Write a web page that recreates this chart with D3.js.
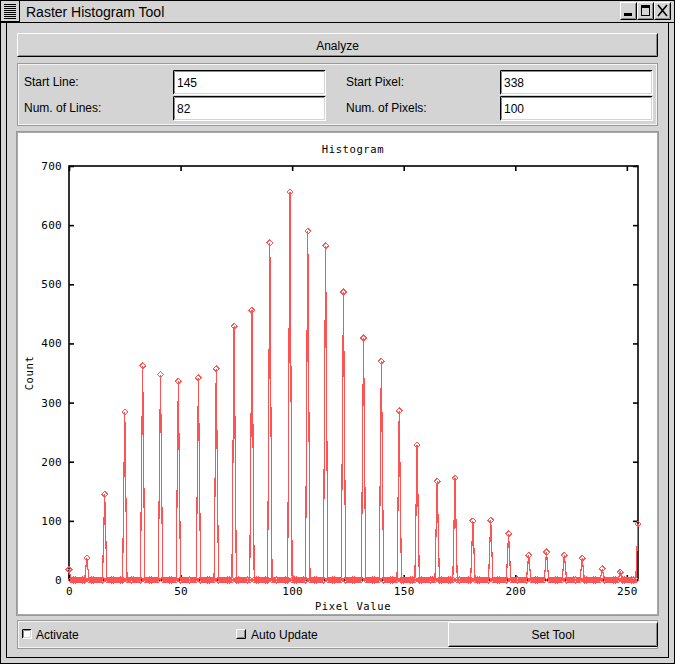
<!DOCTYPE html>
<html><head><meta charset="utf-8">
<script src="https://cdn.jsdelivr.net/npm/d3@7"></script>
<style>body{margin:0;background:#d4d4d4;overflow:hidden}svg{display:block}</style>
</head><body><svg id="c" width="675" height="664"></svg>
<script>
// ---- data ----
const peakPixels = [0,8,16,25,33,41,49,58,66,74,82,90,99,107,115,123,132,140,148,156,165,173,181,189,197,206,214,222,230,239,247,255];
const peakCounts = [18,37,145,284,362,347,336,342,357,429,456,570,656,590,565,487,409,370,286,228,167,172,100,101,78,42,47,42,37,19,13,95];
const xTicks = [0,50,100,150,200,250];
const yTicks = [0,100,200,300,400,500,600,700];
const fieldLabels = ["Start Line:","Num. of Lines:","Start Pixel:","Num. of Pixels:"];
const fieldValues = ["145","82","338","100"];
const windowTitle = "Raster Histogram Tool";
const chartTitle = "Histogram";
const xLabel = "Pixel Value";
const yLabel = "Count";

// full histogram table (zero where no peak)
const hist = d3.range(0,256).map(v => ({v, c: 0}));
peakPixels.forEach((p,i) => { hist[p].c = peakCounts[i]; });

const svg = d3.select("#c");
const UI = "'Liberation Sans', Arial, sans-serif";
const MONO = "'DejaVu Sans Mono', monospace";
const BG = "#d4d4d4";

function bevel(x,y,w,h,raised,fill){
  const g = svg.append("g");
  g.append("rect").attr("x",x).attr("y",y).attr("width",w).attr("height",h).attr("fill",fill||BG);
  const lt = raised ? "#ffffff" : "#000000";
  const dk = raised ? "#000000" : "#ffffff";
  const lt2 = raised ? BG : "#8a8a8a";
  const dk2 = raised ? "#8a8a8a" : BG;
  g.append("path").attr("d",`M${x+0.5},${y+h-0.5}V${y+0.5}H${x+w-0.5}`).attr("stroke",lt).attr("fill","none");
  g.append("path").attr("d",`M${x+0.5},${y+h-0.5}H${x+w-0.5}V${y+0.5}`).attr("stroke",dk).attr("fill","none");
  g.append("path").attr("d",`M${x+1.5},${y+h-1.5}V${y+1.5}H${x+w-1.5}`).attr("stroke",lt2).attr("fill","none");
  g.append("path").attr("d",`M${x+1.5},${y+h-1.5}H${x+w-1.5}V${y+1.5}`).attr("stroke",dk2).attr("fill","none");
  return g;
}
function etched(x,y,w,h){
  svg.append("rect").attr("x",x+0.5).attr("y",y+0.5).attr("width",w-1).attr("height",h-1).attr("fill","none").attr("stroke","#9a9a9a");
  svg.append("rect").attr("x",x+1.5).attr("y",y+1.5).attr("width",w-3).attr("height",h-3).attr("fill","none").attr("stroke","#f4f4f4");
}
function label(x,y,t,anchor,size){
  return svg.append("text").attr("x",x).attr("y",y).attr("font-family",UI).attr("font-size",size||12)
    .attr("text-anchor",anchor||"start").attr("fill","#000").text(t);
}

// ---- window frame ----
svg.append("rect").attr("x",0.5).attr("y",0.5).attr("width",674).attr("height",663).attr("fill",BG).attr("stroke","#000");
svg.append("rect").attr("x",6.5).attr("y",22.5).attr("width",662).attr("height",635).attr("fill","none").attr("stroke","#000");
svg.append("line").attr("x1",0).attr("x2",675).attr("y1",22.5).attr("y2",22.5).attr("stroke","#000");
// title bar
svg.append("rect").attr("x",0.5).attr("y",0.5).attr("width",19).attr("height",21).attr("fill",BG).attr("stroke","#000");
d3.range(4,19,2).forEach(yy => svg.append("line").attr("x1",4).attr("x2",16).attr("y1",yy+0.5).attr("y2",yy+0.5).attr("stroke","#000"));
label(26,16.5,windowTitle,"start",14);
[[620,"min"],[637,"max"],[654,"close"]].forEach(([bx,kind]) => {
  bevel(bx,2,17,18,true);
  if(kind==="min") svg.append("rect").attr("x",bx+4).attr("y",13).attr("width",8).attr("height",3).attr("fill","#000");
  if(kind==="max") { svg.append("rect").attr("x",bx+4.5).attr("y",5.5).attr("width",8).attr("height",10).attr("fill","none").attr("stroke","#000");
                     svg.append("rect").attr("x",bx+4).attr("y",5).attr("width",9).attr("height",3).attr("fill","#000"); }
  if(kind==="close") svg.append("path").attr("d",`M${bx+4},5L${bx+13},16M${bx+13},5L${bx+4},16`).attr("stroke","#000").attr("stroke-width",1.6);
});

// ---- Analyze button ----
bevel(17,33,641,24,true);
label(337.5,49.5,"Analyze","middle");

// ---- fields panel ----
etched(17,63,641,63);
label(24,86,fieldLabels[0]); label(24,112,fieldLabels[1]);
label(346,86,fieldLabels[2]); label(346,112,fieldLabels[3]);
[[173,70,0],[173,96,1],[500,70,2],[500,96,3]].forEach(([fx,fy,i]) => {
  bevel(fx,fy,153,25,false,"#ffffff");
  label(fx+4,fy+17,fieldValues[i]);
});

// ---- chart panel ----
svg.append("rect").attr("x",17).attr("y",132).attr("width",641).attr("height",483).attr("fill","#fff");
etched(16,131,643,485);
svg.append("rect").attr("x",17.5).attr("y",132.5).attr("width",640).attr("height",482).attr("fill","none").attr("stroke","#a8a8a8");

const x = d3.scaleLinear().domain([0,255]).range([69,638]);
const y = d3.scaleLinear().domain([0,700]).range([580,166]);

const axStyle = g => { g.selectAll("path,line").attr("stroke","#000").attr("stroke-width",1.6);
  g.selectAll("text").attr("font-family",MONO).attr("font-size",11).attr("fill","#000").attr("letter-spacing",0.3); };

svg.append("g").attr("transform","translate(0,580)")
  .call(d3.axisBottom(x).tickValues(xTicks).tickSize(-5).tickSizeOuter(0).tickPadding(7)).call(axStyle).call(g=>g.select(".domain").remove());
svg.append("g").attr("transform","translate(0,166)")
  .call(d3.axisTop(x).tickValues(xTicks).tickSize(-5).tickSizeOuter(0).tickFormat("")).call(axStyle).call(g=>g.select(".domain").remove());
svg.append("g").attr("transform","translate(69,0)")
  .call(d3.axisLeft(y).tickValues(yTicks).tickSize(-5).tickSizeOuter(0).tickPadding(7)).call(axStyle).call(g=>g.select(".domain").remove());
svg.append("g").attr("transform","translate(638,0)")
  .call(d3.axisRight(y).tickValues(yTicks).tickSize(-5).tickSizeOuter(0).tickFormat("")).call(axStyle).call(g=>g.select(".domain").remove());
svg.append("rect").attr("x",x(0)).attr("y",y(700)).attr("width",x(255)-x(0)).attr("height",y(0)-y(700))
  .attr("fill","none").attr("stroke","#000").attr("stroke-width",1.6);

svg.append("text").attr("x",353).attr("y",153).attr("text-anchor","middle").attr("font-family",MONO).attr("font-size",10.5).attr("letter-spacing",0.6).text(chartTitle);
svg.append("text").attr("x",353).attr("y",610).attr("text-anchor","middle").attr("font-family",MONO).attr("font-size",10.5).attr("letter-spacing",0.6).text(xLabel);
svg.append("text").attr("transform","translate(33,373) rotate(-90)").attr("text-anchor","middle").attr("font-family",MONO).attr("font-size",10.5).attr("letter-spacing",0.6).text(yLabel);

// data line + diamonds
const RED = "#ff5252";
svg.append("path").datum(hist).attr("fill","none").attr("stroke",RED).attr("stroke-width",1.2)
  .attr("shape-rendering","crispEdges")
  .attr("d", d3.line().x(d=>x(d.v)).y(d=>y(d.c)));
svg.append("g").attr("shape-rendering","crispEdges").selectAll("path").data(hist).join("path")
  .attr("transform",d=>`translate(${x(d.v)},${y(d.c)})`)
  .attr("d","M0,-3L3,0L0,3L-3,0Z").attr("fill","none").attr("stroke",RED).attr("stroke-width",1);

// ---- bottom controls ----
etched(17,620,641,29);
bevel(22,629,10,10,false,"#ffffff");
label(36,639,"Activate");
bevel(236,629,10,10,true);
label(251,639,"Auto Update");
bevel(448,622,210,25,true);
label(553,639,"Set Tool","middle");
</script></body></html>
